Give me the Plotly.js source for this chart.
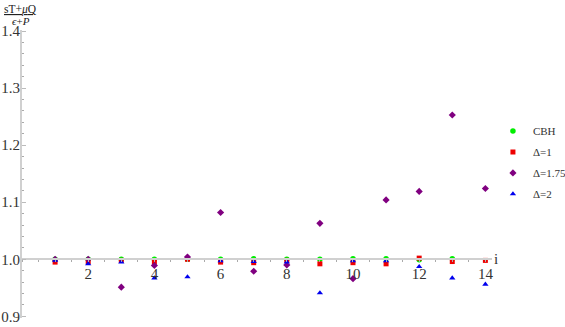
<!DOCTYPE html>
<html>
<head>
<meta charset="utf-8">
<script src="https://cdn.plot.ly/plotly-3.0.1.min.js"></script>
<style>html,body{margin:0;padding:0;background:#fff;}</style>
</head>
<body>
<div id="chart" style="width:565px;height:327px;"></div>
<script>
const iCBH = [1,2,3,4,5,6,7,8,9,10,11,12,13];
const cbh  = [1.000,1.000,1.000,1.000,1.000,1.000,1.001,1.000,1.000,1.001,1.001,0.999,1.001];
const iAll = [1,2,3,4,5,6,7,8,9,10,11,12,13,14];
const d1   = [0.995,0.996,0.998,0.995,1.000,0.995,0.994,0.998,0.992,0.994,0.992,1.002,0.996,0.998];
const d175 = [1.000,1.000,0.951,0.989,1.004,1.082,0.979,0.990,1.063,0.966,1.104,1.119,1.253,1.124];
const d2   = [0.998,0.992,0.995,0.967,0.969,0.997,0.996,0.995,0.941,0.997,0.997,0.987,0.967,0.956];
const names = ['CBH','Δ=1','Δ=1.75','Δ=2'];

const yRange = [0.897, 1.402];
const xRange = [0, 14.2];
const crossY = 1.0;

const serif = 'Liberation Serif, Times New Roman, serif';
const mk = (sym, col, sz) => ({symbol: sym, color: col, size: sz, line: {width: 0}});

const traces = [
  {x: iCBH, y: cbh,  name: names[0], legendgroup: 'g0', mode: 'markers', type: 'scatter', marker: mk('circle', '#00ee00', 5.5)},
  {x: iAll, y: d1,   name: names[1], legendgroup: 'g1', mode: 'markers', type: 'scatter', marker: mk('square', '#ee0000', 5)},
  {x: iAll, y: d175, name: names[2], legendgroup: 'g2', mode: 'markers', type: 'scatter', marker: mk('diamond', '#800080', 5.5)},
  {x: iAll, y: d2,   name: names[3], legendgroup: 'g3', mode: 'markers', type: 'scatter', marker: mk('triangle-up', '#0000ee', 5.5)}
];

const layout = {
  width: 565, height: 327,
  margin: {l: 22, r: 73, t: 30, b: 9, autoexpand: false},
  paper_bgcolor: '#fff', plot_bgcolor: '#fff',
  font: {family: serif, color: '#333', size: 15},
  showlegend: true,
  legend: {x: 1.002, y: 0.70, xanchor: 'left', yanchor: 'top', font: {family: serif, size: 11, color: '#333'},
           bgcolor: 'rgba(0,0,0,0)', itemwidth: 30, tracegroupgap: 2},
  xaxis: {
    range: xRange, showgrid: false, zeroline: false,
    anchor: 'free', position: (crossY - yRange[0]) / (yRange[1] - yRange[0]),
    showline: true, linecolor: '#d0d0d0', linewidth: 2,
    tickmode: 'array', tickvals: [2,4,6,8,10,12,14], ticktext: ['2','4','6','8','10','12','14'],
    ticks: 'outside', ticklen: 1, tickcolor: '#bbb',
    tickfont: {family: serif, size: 15, color: '#333'},
    minor: {dtick: 0.5, tick0: 0, ticks: 'outside', ticklen: 1.5, tickcolor: '#aaa'},
    automargin: false, fixedrange: true
  },
  yaxis: {
    range: yRange, showgrid: false, zeroline: false,
    showline: true, linecolor: '#d0d0d0', linewidth: 2,
    tickmode: 'array', tickvals: [0.9,1.0,1.1,1.2,1.3,1.4], ticktext: ['0.9','1.0','1.1','1.2','1.3','1.4'],
    ticks: 'inside', ticklen: 4, tickcolor: '#bbb', ticklabelstandoff: -3,
    tickfont: {family: serif, size: 15, color: '#333'},
    minor: {dtick: 0.02, tick0: 0.9, ticks: 'inside', ticklen: 2, tickcolor: '#aaa'},
    automargin: false, fixedrange: true
  },
  annotations: [
    {xref: 'paper', yref: 'y', x: 1.0, y: crossY, xanchor: 'left', yanchor: 'middle', xshift: 0,
     text: 'i', showarrow: false, font: {family: serif, size: 15, color: '#333'}},
    {xref: 'paper', yref: 'paper', x: 0, y: 1, xanchor: 'center', yanchor: 'middle', xshift: -1.5, yshift: 21,
     text: '<u>sT+<i>μ</i>Q</u>', showarrow: false, font: {family: serif, size: 11.5, color: '#222'}},
    {xref: 'paper', yref: 'paper', x: 0, y: 1, xanchor: 'center', yanchor: 'middle', xshift: -1.5, yshift: 9,
     text: '<i>ϵ</i>+<i>P</i>', showarrow: false, font: {family: serif, size: 11, color: '#222'}}
  ]
};

Plotly.newPlot('chart', traces, layout, {displayModeBar: false, staticPlot: true});
</script>
</body>
</html>
